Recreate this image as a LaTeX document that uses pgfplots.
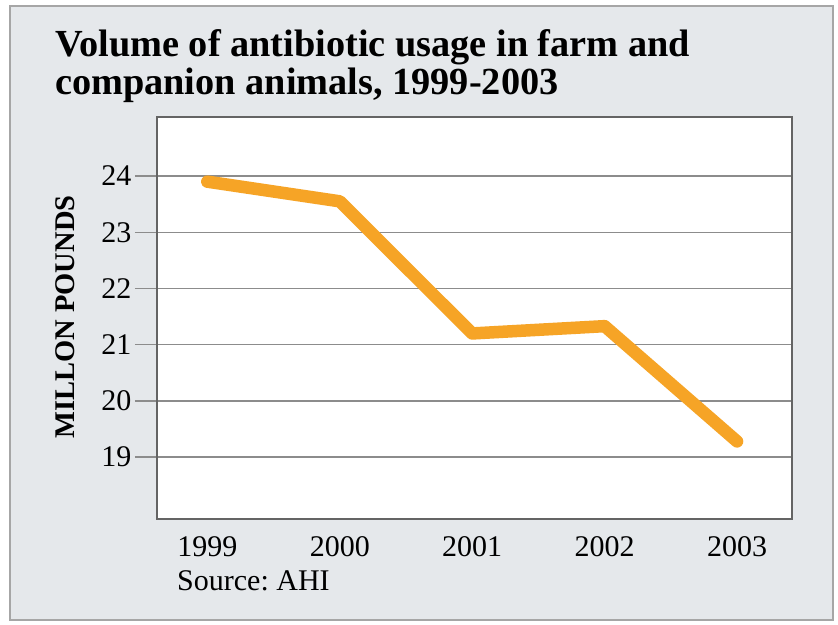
\documentclass[border=0pt]{standalone}
\usepackage{pgfplots}
\pgfplotsset{compat=1.18}
\usepackage{fontspec}
\setmainfont{Liberation Serif}
\frenchspacing
\definecolor{panel}{RGB}{229,232,235}
\definecolor{lineorange}{RGB}{246,164,38}
\definecolor{gridgray}{RGB}{140,140,140}
\definecolor{framegray}{RGB}{100,100,100}
\begin{document}
\begin{tikzpicture}
\useasboundingbox (0pt,0pt) rectangle (838pt,624pt);
\fill[white] (0pt,0pt) rectangle (838pt,624pt);
\fill[panel, draw=gray!70, line width=2pt] (10pt,4pt) rectangle (833pt,618pt);
\node[anchor=base west, inner sep=0pt, font=\fontsize{38.3}{40}\selectfont\bfseries] at (55pt,567pt) {Volume of antibiotic usage in farm and};
\node[anchor=base west, inner sep=0pt, font=\fontsize{38.3}{40}\selectfont\bfseries] at (55pt,529pt) {companion animals, 1999-2003};
\node[rotate=90, inner sep=0pt, font=\fontsize{28.5}{30}\selectfont\bfseries] at (65pt,307pt) {MILLON POUNDS};
\node[anchor=base west, inner sep=0pt, font=\fontsize{30}{32}\selectfont] at (177pt,34pt) {Source: AHI};
\begin{axis}[
  at={(157pt,105pt)}, anchor=south west,
  scale only axis, width=635pt, height=402pt,
  xmin=-0.38, xmax=4.415, ymin=17.9, ymax=25.05,
  axis background/.style={fill=white},
  axis line style={draw=framegray, line width=1.5pt},
  xtick={0,1,2,3,4},
  xticklabels={1999,2000,2001,2002,2003},
  ytick={19,20,21,22,23,24},
  yticklabels={19,20,21,22,23,24},
  ymajorgrids, grid style={draw=gridgray, line width=1.5pt},
  major x tick style={draw=none},
  major y tick style={draw=gridgray, line width=1.5pt},
  tick align=outside, major tick length=22pt,
  ytick pos=left, xtick pos=bottom,
  xticklabel style={font=\fontsize{30}{32}\selectfont, yshift=8pt},
  yticklabel style={font=\fontsize{30}{32}\selectfont, xshift=0pt},
  clip=false,
]
\addplot[lineorange, line width=12.5pt, line cap=round, line join=round] coordinates {
  (0,23.9) (1,23.55) (2,21.2) (3,21.33) (4,19.28)
};
\end{axis}
\end{tikzpicture}
\end{document}
